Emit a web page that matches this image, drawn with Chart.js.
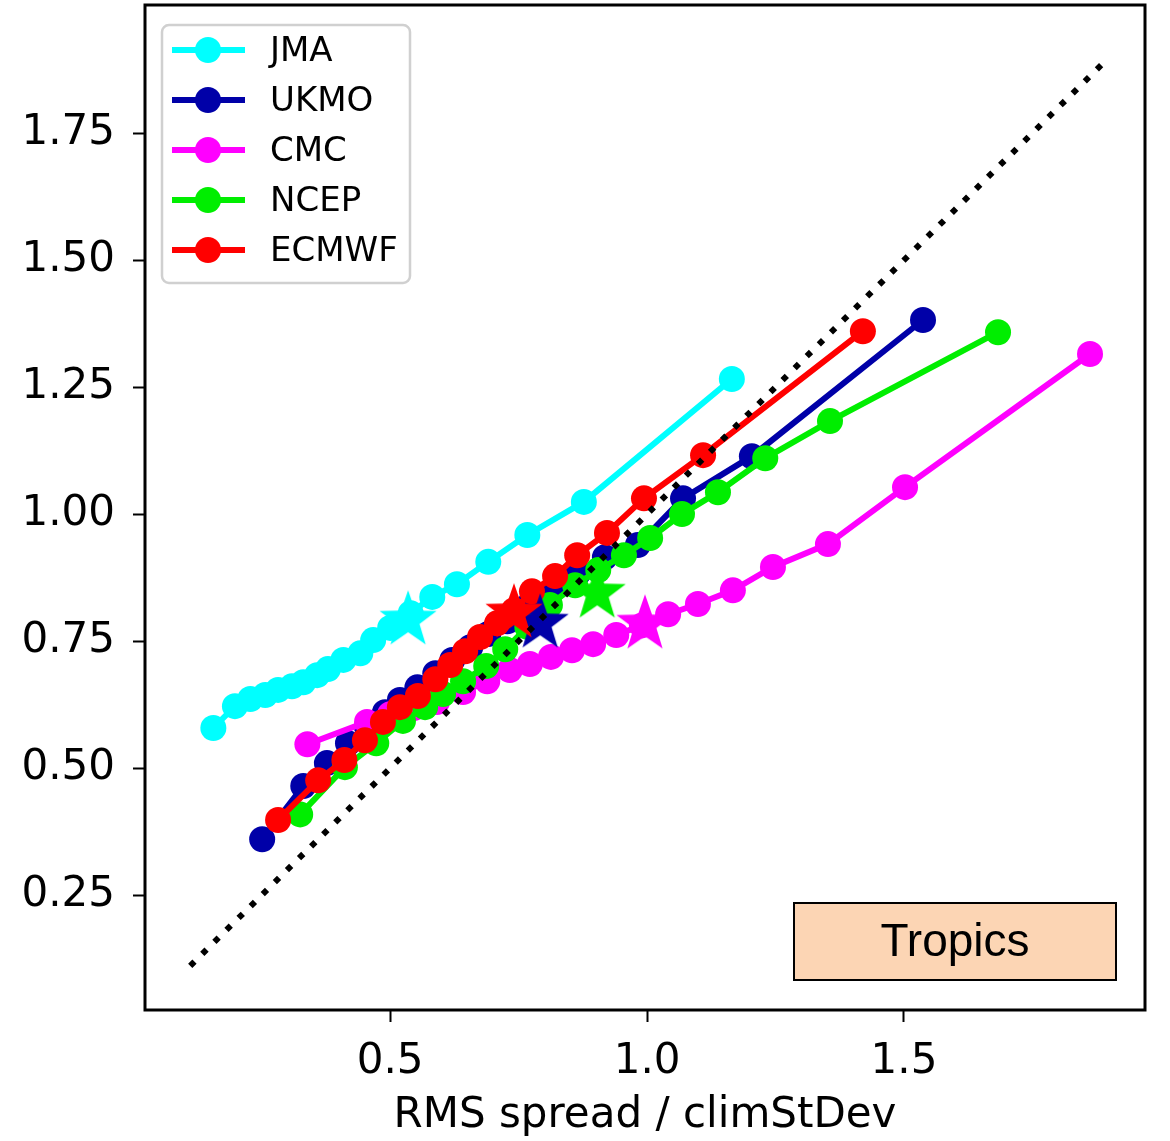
<!DOCTYPE html>
<html>
<head>
<meta charset="utf-8">
<script src="https://cdn.jsdelivr.net/npm/chart.js@4.4.1/dist/chart.umd.min.js"></script>
<style>
  html, body { margin: 0; padding: 0; background: #ffffff; }
  #wrap { width: 1170px; height: 1141px; }
</style>
</head>
<body>
<div id="wrap"><canvas id="chart" width="1170" height="1141"></canvas></div>
<script>
// RMS spread / climStDev (x) against RMS error / climStDev (y), Tropics
var SERIES_NAMES = ['JMA', 'UKMO', 'CMC', 'NCEP', 'ECMWF'];

var JMA_X   = [0.156, 0.198, 0.228, 0.257, 0.282, 0.309, 0.331, 0.358, 0.379, 0.409, 0.442, 0.467, 0.500, 0.540, 0.582, 0.630, 0.691, 0.767, 0.877, 1.165];
var JMA_Y   = [0.579, 0.622, 0.636, 0.644, 0.654, 0.661, 0.669, 0.683, 0.695, 0.713, 0.726, 0.752, 0.776, 0.805, 0.837, 0.862, 0.906, 0.959, 1.024, 1.266];

var UKMO_X  = [0.251, 0.331, 0.377, 0.418, 0.455, 0.490, 0.519, 0.553, 0.588, 0.621, 0.656, 0.691, 0.728, 0.768, 0.815, 0.866, 0.918, 0.982, 1.070, 1.204, 1.537];
var UKMO_Y  = [0.360, 0.465, 0.510, 0.549, 0.581, 0.610, 0.634, 0.659, 0.687, 0.713, 0.738, 0.764, 0.789, 0.819, 0.850, 0.884, 0.915, 0.939, 1.031, 1.114, 1.382];

var CMC_X   = [0.339, 0.455, 0.500, 0.545, 0.591, 0.642, 0.689, 0.733, 0.772, 0.813, 0.854, 0.895, 0.940, 0.990, 1.041, 1.099, 1.167, 1.245, 1.352, 1.502, 1.862];
var CMC_Y   = [0.547, 0.591, 0.606, 0.618, 0.630, 0.650, 0.671, 0.693, 0.705, 0.719, 0.732, 0.744, 0.762, 0.781, 0.803, 0.823, 0.850, 0.896, 0.941, 1.053, 1.315];

var NCEP_X  = [0.325, 0.412, 0.473, 0.525, 0.568, 0.603, 0.642, 0.687, 0.724, 0.767, 0.811, 0.860, 0.905, 0.955, 1.006, 1.068, 1.138, 1.230, 1.356, 1.683];
var NCEP_Y  = [0.409, 0.502, 0.549, 0.593, 0.620, 0.646, 0.671, 0.701, 0.734, 0.778, 0.821, 0.860, 0.890, 0.919, 0.953, 1.000, 1.043, 1.110, 1.183, 1.358];

var ECMWF_X = [0.282, 0.360, 0.411, 0.451, 0.486, 0.519, 0.554, 0.588, 0.617, 0.646, 0.675, 0.708, 0.741, 0.776, 0.821, 0.864, 0.922, 0.994, 1.109, 1.420];
var ECMWF_Y = [0.398, 0.476, 0.516, 0.555, 0.591, 0.620, 0.642, 0.675, 0.703, 0.730, 0.758, 0.785, 0.811, 0.848, 0.878, 0.919, 0.963, 1.031, 1.116, 1.360];

// star markers, in SERIES_NAMES order
var STAR_X = [0.535, 0.792, 0.996, 0.903, 0.741];
var STAR_Y = [0.797, 0.791, 0.789, 0.850, 0.811];

// dotted one-to-one line
var DIAG = [0.111, 1.897];

var X_TICKS = [0.5, 1.0, 1.5];
var X_TICK_LABELS = ['0.5', '1.0', '1.5'];
var Y_TICKS = [0.25, 0.50, 0.75, 1.00, 1.25, 1.50, 1.75];
var Y_TICK_LABELS = ['0.25', '0.50', '0.75', '1.00', '1.25', '1.50', '1.75'];

var COLORS = ['#00ffff', '#0000a8', '#ff00ff', '#00ee00', '#ff0000'];
var FONT = 'DejaVu Sans';

function zip(xs, ys) {
    var out = [];
    for (var i = 0; i < xs.length; i++) out.push({ x: xs[i], y: ys[i] });
    return out;
}

function makeStar(color) {
    var outer = 30, inner = 12, size = 66;
    var cv = document.createElement('canvas');
    cv.width = size; cv.height = size;
    var g = cv.getContext('2d');
    g.beginPath();
    for (var k = 0; k < 10; k++) {
        var r = (k % 2 === 0) ? outer : inner;
        var a = -Math.PI / 2 + k * Math.PI / 5;
        var px = size / 2 + r * Math.cos(a), py = size / 2 + 3 + r * Math.sin(a);
        if (k === 0) g.moveTo(px, py); else g.lineTo(px, py);
    }
    g.closePath();
    g.fillStyle = color;
    g.fill();
    return cv;
}

var seriesX = [JMA_X, UKMO_X, CMC_X, NCEP_X, ECMWF_X];
var seriesY = [JMA_Y, UKMO_Y, CMC_Y, NCEP_Y, ECMWF_Y];

var datasets = [];
// dotted diagonal on top of everything
datasets.push({
    label: 'diag', data: zip(DIAG, DIAG), showLine: true,
    borderColor: '#000000', borderWidth: 6, borderDash: [6, 11], borderCapStyle: 'butt',
    pointRadius: 0, pointHoverRadius: 0, order: 0
});
for (var i = 0; i < SERIES_NAMES.length; i++) {
    datasets.push({
        label: SERIES_NAMES[i] + ' star', data: [{ x: STAR_X[i], y: STAR_Y[i] }],
        showLine: false, pointStyle: makeStar(COLORS[i]), pointRadius: 30,
        order: 1 + (SERIES_NAMES.length - 1 - i)
    });
    datasets.push({
        label: SERIES_NAMES[i], data: zip(seriesX[i], seriesY[i]), showLine: true,
        borderColor: COLORS[i], backgroundColor: COLORS[i], borderWidth: 6,
        pointRadius: 13, pointBorderWidth: 0, pointBackgroundColor: COLORS[i],
        tension: 0, order: 10 + (SERIES_NAMES.length - 1 - i)
    });
}

var framePlugin = {
    id: 'frame',
    afterDatasetsDraw: function (chart) {
        var a = chart.chartArea, ctx = chart.ctx;
        ctx.save();
        // legend
        var lx = 162, ly = 25, lw = 248, lh = 258;
        ctx.beginPath();
        ctx.roundRect(lx, ly, lw, lh, 7);
        ctx.fillStyle = 'rgba(255,255,255,0.85)';
        ctx.fill();
        ctx.lineWidth = 2.5;
        ctx.strokeStyle = '#d0d0d0';
        ctx.stroke();
        for (var i = 0; i < SERIES_NAMES.length; i++) {
            var yy = 50 + i * 50;
            ctx.beginPath();
            ctx.moveTo(172, yy); ctx.lineTo(245, yy);
            ctx.lineWidth = 6; ctx.strokeStyle = COLORS[i]; ctx.stroke();
            ctx.beginPath();
            ctx.arc(208, yy, 13, 0, Math.PI * 2);
            ctx.fillStyle = COLORS[i]; ctx.fill();
            ctx.fillStyle = '#000000';
            ctx.font = '34px "' + FONT + '"';
            ctx.textAlign = 'left';
            ctx.textBaseline = 'middle';
            ctx.fillText(SERIES_NAMES[i], 270, yy + 2);
        }
        // region label
        ctx.fillStyle = '#fcd5b4';
        ctx.fillRect(794, 903, 322, 77);
        ctx.lineWidth = 2;
        ctx.strokeStyle = '#000000';
        ctx.strokeRect(794, 903, 322, 77);
        ctx.fillStyle = '#000000';
        ctx.font = '46px "Liberation Sans"';
        ctx.textAlign = 'center';
        ctx.textBaseline = 'middle';
        ctx.fillText('Tropics', 955, 943);
        // axes frame
        ctx.lineWidth = 3;
        ctx.strokeStyle = '#000000';
        ctx.strokeRect(a.left, a.top, a.right - a.left, a.bottom - a.top);
        ctx.restore();
    }
};

new Chart(document.getElementById('chart'), {
    type: 'scatter',
    data: { datasets: datasets },
    plugins: [framePlugin],
    options: {
        responsive: false,
        devicePixelRatio: 1,
        animation: false,
        layout: { autoPadding: false, padding: { left: 0, right: 25, top: 5, bottom: 0 } },
        plugins: { legend: { display: false }, tooltip: { enabled: false } },
        scales: {
            x: {
                type: 'linear', min: 0.023, max: 1.969,
                afterBuildTicks: function (s) { s.ticks = X_TICKS.map(function (v) { return { value: v }; }); },
                afterFit: function (s) { s.height = 131; s.paddingLeft = 0; s.paddingRight = 0; },
                grid: { drawOnChartArea: false, drawTicks: true, tickLength: 12, tickWidth: 2, color: '#000000' },
                border: { display: false },
                ticks: {
                    color: '#000000', padding: 15, maxRotation: 0,
                    font: { family: FONT, size: 42 },
                    callback: function (v) { var k = X_TICKS.indexOf(v); return k >= 0 ? X_TICK_LABELS[k] : ''; }
                },
                title: {
                    display: true, text: 'RMS spread / climStDev', color: '#000000',
                    font: { family: FONT, size: 42 }, padding: { top: 0, bottom: 0 }
                }
            },
            y: {
                type: 'linear', min: 0.024, max: 2.002,
                afterBuildTicks: function (s) { s.ticks = Y_TICKS.map(function (v) { return { value: v }; }); },
                afterFit: function (s) { s.width = 145; s.paddingTop = 0; s.paddingBottom = 0; },
                grid: { drawOnChartArea: false, drawTicks: true, tickLength: 12, tickWidth: 2, color: '#000000' },
                border: { display: false },
                ticks: {
                    color: '#000000', padding: 18,
                    font: { family: FONT, size: 42 },
                    callback: function (v) { var k = Y_TICKS.indexOf(v); return k >= 0 ? Y_TICK_LABELS[k] : ''; }
                }
            }
        }
    }
});
</script>
</body>
</html>
